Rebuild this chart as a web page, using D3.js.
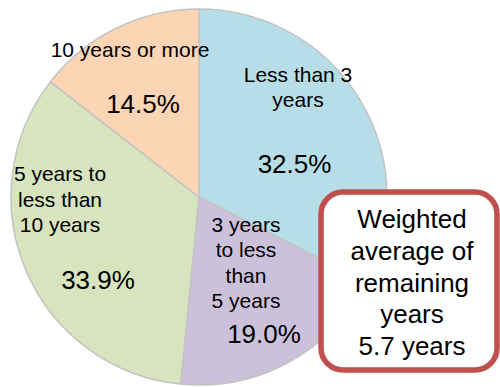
<!DOCTYPE html>
<html>
<head>
<meta charset="utf-8">
<script src="https://cdn.jsdelivr.net/npm/d3@7"></script>
<style>
  html, body { margin: 0; padding: 0; background: #fff; }
  svg { display: block; font-family: "Liberation Sans", Arial, sans-serif; }
</style>
</head>
<body>
<svg id="chart" width="500" height="387"></svg>
<script>
// Remaining years of contracts, share by bucket (clockwise from 12 o'clock)
const categories = ["Less than 3 years", "3 years to less than 5 years", "5 years to less than 10 years", "10 years or more"];
const shares = [32.5, 19.0, 33.9, 14.5];
const labelLines = [
  ["Less than 3", "years"],
  ["3 years", "to less", "than", "5 years"],
  ["5 years to", "less than", "10 years"],
  ["10 years or more"]
];
const calloutLines = ["Weighted", "average of", "remaining", "years", "5.7 years"];

// Presentation
const colors = ["#b7dee8", "#ccc1da", "#d7e4bd", "#fcd5b5"];
const cx = 199, cy = 197, radius = 188;
// label block placement: name lines centre x / first baseline / line gap, percent centre x / baseline
const labelLayout = [
  { x: 298, y: 82,  gap: 24.5, px: 294.5, py: 173 },
  { x: 246, y: 232, gap: 25.4, px: 264,   py: 343 },
  { x: 60,  y: 181, gap: 25.5, px: 98,    py: 289 },
  { x: 130, y: 57,  gap: 25,   px: 143,   py: 113 }
];

const svg = d3.select("#chart");

const pie = d3.pie().sort(null).value(d => d)(shares);
const arc = d3.arc().innerRadius(0).outerRadius(radius);

const g = svg.append("g").attr("transform", `translate(${cx},${cy})`);
g.selectAll("path.slice")
  .data(pie)
  .join("path")
  .attr("class", "slice")
  .attr("d", arc)
  .attr("fill", (d, i) => colors[i])
  .attr("stroke", "#c3c3c3")
  .attr("stroke-width", 1.5)
  .attr("stroke-linejoin", "round");

// Category names and percentages
const labels = svg.append("g").attr("fill", "#000");
pie.forEach((d, i) => {
  const L = labelLayout[i];
  labels.append("text")
    .attr("text-anchor", "middle")
    .attr("font-size", 21)
    .selectAll("tspan")
    .data(labelLines[i])
    .join("tspan")
    .attr("x", L.x)
    .attr("y", (t, j) => L.y + j * L.gap)
    .text(t => t);
  labels.append("text")
    .attr("text-anchor", "middle")
    .attr("font-size", 26)
    .attr("x", L.px)
    .attr("y", L.py)
    .text(d3.format(".1f")(d.data) + "%");
});

// Callout box
const box = svg.append("g");
box.append("rect")
  .attr("x", 321).attr("y", 192)
  .attr("width", 176).attr("height", 178)
  .attr("rx", 22).attr("ry", 22)
  .attr("fill", "#fff")
  .attr("stroke", "#c0504d")
  .attr("stroke-width", 5.5);
box.append("text")
  .attr("text-anchor", "middle")
  .attr("font-size", 26)
  .attr("fill", "#000")
  .selectAll("tspan")
  .data(calloutLines)
  .join("tspan")
  .attr("x", 412)
  .attr("y", (t, j) => 228 + j * 31.8)
  .text(t => t);
</script>
</body>
</html>
